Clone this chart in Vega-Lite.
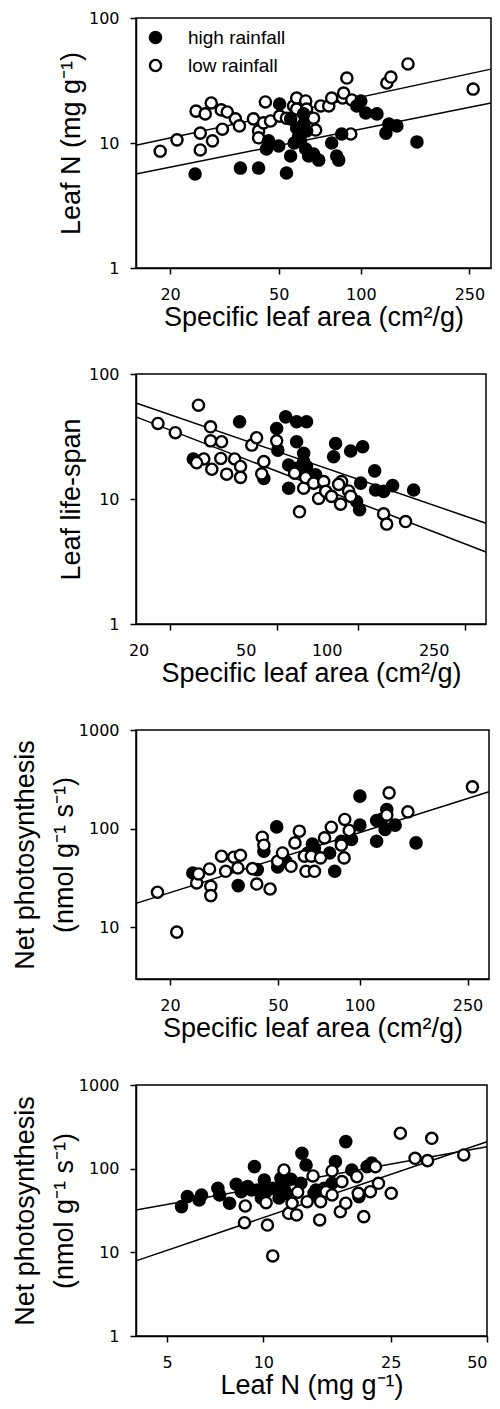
{
  "$schema": "https://vega.github.io/schema/vega-lite/v6.json",
  "background": "white",
  "padding": {"left": 10, "top": 9, "right": 5, "bottom": 2},
  "bounds": "flush",
  "spacing": 106,
  "resolve": {"scale": {"fill": "independent"}, "legend": {"fill": "independent"}},
  "datasets": {
    "leafN_vs_sla": [
      {"sla": 18.4, "leafN": 8.6, "rain": "low rainfall"},
      {"sla": 21.2, "leafN": 10.6, "rain": "low rainfall"},
      {"sla": 24.9, "leafN": 18.0, "rain": "low rainfall"},
      {"sla": 25.8, "leafN": 12.0, "rain": "low rainfall"},
      {"sla": 25.8, "leafN": 8.8, "rain": "low rainfall"},
      {"sla": 26.9, "leafN": 17.1, "rain": "low rainfall"},
      {"sla": 28.3, "leafN": 20.9, "rain": "low rainfall"},
      {"sla": 28.6, "leafN": 10.4, "rain": "low rainfall"},
      {"sla": 30.8, "leafN": 18.4, "rain": "low rainfall"},
      {"sla": 31.1, "leafN": 12.9, "rain": "low rainfall"},
      {"sla": 32.4, "leafN": 17.7, "rain": "low rainfall"},
      {"sla": 34.7, "leafN": 15.6, "rain": "low rainfall"},
      {"sla": 35.9, "leafN": 13.7, "rain": "low rainfall"},
      {"sla": 40.4, "leafN": 15.6, "rain": "low rainfall"},
      {"sla": 42.2, "leafN": 12.5, "rain": "low rainfall"},
      {"sla": 42.2, "leafN": 11.0, "rain": "low rainfall"},
      {"sla": 44.7, "leafN": 21.3, "rain": "low rainfall"},
      {"sla": 44.0, "leafN": 14.5, "rain": "low rainfall"},
      {"sla": 46.7, "leafN": 15.0, "rain": "low rainfall"},
      {"sla": 50.4, "leafN": 16.4, "rain": "low rainfall"},
      {"sla": 53.4, "leafN": 15.8, "rain": "low rainfall"},
      {"sla": 56.7, "leafN": 19.8, "rain": "low rainfall"},
      {"sla": 58.2, "leafN": 22.9, "rain": "low rainfall"},
      {"sla": 58.2, "leafN": 18.7, "rain": "low rainfall"},
      {"sla": 62.8, "leafN": 21.7, "rain": "low rainfall"},
      {"sla": 63.3, "leafN": 18.7, "rain": "low rainfall"},
      {"sla": 67.1, "leafN": 15.8, "rain": "low rainfall"},
      {"sla": 68.3, "leafN": 12.7, "rain": "low rainfall"},
      {"sla": 71.3, "leafN": 19.8, "rain": "low rainfall"},
      {"sla": 76.3, "leafN": 19.8, "rain": "low rainfall"},
      {"sla": 78.2, "leafN": 22.9, "rain": "low rainfall"},
      {"sla": 85.8, "leafN": 22.9, "rain": "low rainfall"},
      {"sla": 86.5, "leafN": 25.1, "rain": "low rainfall"},
      {"sla": 88.9, "leafN": 33.1, "rain": "low rainfall"},
      {"sla": 91.9, "leafN": 11.8, "rain": "low rainfall"},
      {"sla": 92.7, "leafN": 22.1, "rain": "low rainfall"},
      {"sla": 124.6, "leafN": 30.2, "rain": "low rainfall"},
      {"sla": 128.9, "leafN": 33.7, "rain": "low rainfall"},
      {"sla": 148.9, "leafN": 42.9, "rain": "low rainfall"},
      {"sla": 258, "leafN": 27.0, "rain": "low rainfall"},
      {"sla": 24.7, "leafN": 5.65, "rain": "high rainfall"},
      {"sla": 36.2, "leafN": 6.3, "rain": "high rainfall"},
      {"sla": 42.2, "leafN": 6.3, "rain": "high rainfall"},
      {"sla": 53.4, "leafN": 5.75, "rain": "high rainfall"},
      {"sla": 45.1, "leafN": 8.95, "rain": "high rainfall"},
      {"sla": 45.9, "leafN": 10.4, "rain": "high rainfall"},
      {"sla": 50.0, "leafN": 9.46, "rain": "high rainfall"},
      {"sla": 50.4, "leafN": 20.5, "rain": "high rainfall"},
      {"sla": 55.3, "leafN": 7.87, "rain": "high rainfall"},
      {"sla": 55.3, "leafN": 15.6, "rain": "high rainfall"},
      {"sla": 58.2, "leafN": 13.2, "rain": "high rainfall"},
      {"sla": 59.2, "leafN": 11.4, "rain": "high rainfall"},
      {"sla": 61.7, "leafN": 17.1, "rain": "high rainfall"},
      {"sla": 61.7, "leafN": 14.1, "rain": "high rainfall"},
      {"sla": 62.8, "leafN": 8.95, "rain": "high rainfall"},
      {"sla": 63.3, "leafN": 12.5, "rain": "high rainfall"},
      {"sla": 60.1, "leafN": 10.4, "rain": "high rainfall"},
      {"sla": 57.0, "leafN": 10.0, "rain": "high rainfall"},
      {"sla": 64.4, "leafN": 7.87, "rain": "high rainfall"},
      {"sla": 67.1, "leafN": 8.17, "rain": "high rainfall"},
      {"sla": 70.1, "leafN": 7.3, "rain": "high rainfall"},
      {"sla": 78.2, "leafN": 10.0, "rain": "high rainfall"},
      {"sla": 81.6, "leafN": 7.87, "rain": "high rainfall"},
      {"sla": 83.0, "leafN": 7.3, "rain": "high rainfall"},
      {"sla": 85.1, "leafN": 11.8, "rain": "high rainfall"},
      {"sla": 96.7, "leafN": 19.8, "rain": "high rainfall"},
      {"sla": 100, "leafN": 21.7, "rain": "high rainfall"},
      {"sla": 104.3, "leafN": 17.4, "rain": "high rainfall"},
      {"sla": 114.6, "leafN": 17.1, "rain": "high rainfall"},
      {"sla": 123.6, "leafN": 12.0, "rain": "high rainfall"},
      {"sla": 126.7, "leafN": 14.2, "rain": "high rainfall"},
      {"sla": 135.5, "leafN": 13.7, "rain": "high rainfall"},
      {"sla": 160.6, "leafN": 10.2, "rain": "high rainfall"}
    ],
    "fit_a": [
      {"sla": 15, "leafN": 9.6, "rain": "low rainfall"},
      {"sla": 300, "leafN": 39, "rain": "low rainfall"},
      {"sla": 15, "leafN": 5.65, "rain": "high rainfall"},
      {"sla": 300, "leafN": 20.9, "rain": "high rainfall"}
    ],
    "lifespan_vs_sla": [
      {"sla": 24.5, "lifespan": 20.9, "rain": "high rainfall"},
      {"sla": 36.4, "lifespan": 41.5, "rain": "high rainfall"},
      {"sla": 50.0, "lifespan": 36.6, "rain": "high rainfall"},
      {"sla": 50.5, "lifespan": 24.6, "rain": "high rainfall"},
      {"sla": 54.0, "lifespan": 45.4, "rain": "high rainfall"},
      {"sla": 59.3, "lifespan": 41.5, "rain": "high rainfall"},
      {"sla": 64.6, "lifespan": 41.5, "rain": "high rainfall"},
      {"sla": 59.3, "lifespan": 28.7, "rain": "high rainfall"},
      {"sla": 63.0, "lifespan": 23.2, "rain": "high rainfall"},
      {"sla": 63.0, "lifespan": 19.9, "rain": "high rainfall"},
      {"sla": 55.4, "lifespan": 18.7, "rain": "high rainfall"},
      {"sla": 55.4, "lifespan": 12.2, "rain": "high rainfall"},
      {"sla": 59.3, "lifespan": 17.6, "rain": "high rainfall"},
      {"sla": 64.6, "lifespan": 18.2, "rain": "high rainfall"},
      {"sla": 69.8, "lifespan": 15.6, "rain": "high rainfall"},
      {"sla": 82.8, "lifespan": 27.8, "rain": "high rainfall"},
      {"sla": 81.4, "lifespan": 21.8, "rain": "high rainfall"},
      {"sla": 94.2, "lifespan": 24.2, "rain": "high rainfall"},
      {"sla": 104.4, "lifespan": 26.2, "rain": "high rainfall"},
      {"sla": 115.7, "lifespan": 16.8, "rain": "high rainfall"},
      {"sla": 102.6, "lifespan": 13.4, "rain": "high rainfall"},
      {"sla": 99.1, "lifespan": 9.55, "rain": "high rainfall"},
      {"sla": 101.7, "lifespan": 8.2, "rain": "high rainfall"},
      {"sla": 116.6, "lifespan": 11.8, "rain": "high rainfall"},
      {"sla": 124.9, "lifespan": 11.5, "rain": "high rainfall"},
      {"sla": 134.9, "lifespan": 12.8, "rain": "high rainfall"},
      {"sla": 161.5, "lifespan": 11.8, "rain": "high rainfall"},
      {"sla": 44.8, "lifespan": 14.6, "rain": "high rainfall"},
      {"sla": 18.1, "lifespan": 40.2, "rain": "low rainfall"},
      {"sla": 21.0, "lifespan": 33.9, "rain": "low rainfall"},
      {"sla": 25.6, "lifespan": 56.3, "rain": "low rainfall"},
      {"sla": 28.4, "lifespan": 37.8, "rain": "low rainfall"},
      {"sla": 28.4, "lifespan": 29.2, "rain": "low rainfall"},
      {"sla": 31.2, "lifespan": 28.7, "rain": "low rainfall"},
      {"sla": 26.8, "lifespan": 20.9, "rain": "low rainfall"},
      {"sla": 25.2, "lifespan": 19.5, "rain": "low rainfall"},
      {"sla": 28.7, "lifespan": 17.3, "rain": "low rainfall"},
      {"sla": 31.0, "lifespan": 21.1, "rain": "low rainfall"},
      {"sla": 32.6, "lifespan": 15.8, "rain": "low rainfall"},
      {"sla": 34.9, "lifespan": 20.9, "rain": "low rainfall"},
      {"sla": 36.7, "lifespan": 18.2, "rain": "low rainfall"},
      {"sla": 36.7, "lifespan": 14.9, "rain": "low rainfall"},
      {"sla": 40.4, "lifespan": 27.0, "rain": "low rainfall"},
      {"sla": 42.1, "lifespan": 30.9, "rain": "low rainfall"},
      {"sla": 44.8, "lifespan": 19.9, "rain": "low rainfall"},
      {"sla": 44.0, "lifespan": 15.9, "rain": "low rainfall"},
      {"sla": 50.0, "lifespan": 29.2, "rain": "low rainfall"},
      {"sla": 58.3, "lifespan": 16.1, "rain": "low rainfall"},
      {"sla": 60.8, "lifespan": 7.9, "rain": "low rainfall"},
      {"sla": 63.0, "lifespan": 12.2, "rain": "low rainfall"},
      {"sla": 64.1, "lifespan": 14.8, "rain": "low rainfall"},
      {"sla": 68.6, "lifespan": 13.4, "rain": "low rainfall"},
      {"sla": 71.6, "lifespan": 10.1, "rain": "low rainfall"},
      {"sla": 74.8, "lifespan": 13.8, "rain": "low rainfall"},
      {"sla": 76.1, "lifespan": 11.5, "rain": "low rainfall"},
      {"sla": 80.0, "lifespan": 10.5, "rain": "low rainfall"},
      {"sla": 86.4, "lifespan": 9.1, "rain": "low rainfall"},
      {"sla": 87.2, "lifespan": 13.8, "rain": "low rainfall"},
      {"sla": 85.0, "lifespan": 13.1, "rain": "low rainfall"},
      {"sla": 92.6, "lifespan": 11.6, "rain": "low rainfall"},
      {"sla": 94.2, "lifespan": 10.5, "rain": "low rainfall"},
      {"sla": 124.9, "lifespan": 7.6, "rain": "low rainfall"},
      {"sla": 128.2, "lifespan": 6.3, "rain": "low rainfall"},
      {"sla": 150.7, "lifespan": 6.6, "rain": "low rainfall"}
    ],
    "fit_b": [
      {"sla": 15, "lifespan": 58.7, "rain": "high rainfall"},
      {"sla": 300, "lifespan": 6.4, "rain": "high rainfall"},
      {"sla": 15, "lifespan": 45.4, "rain": "low rainfall"},
      {"sla": 300, "lifespan": 3.77, "rain": "low rainfall"}
    ],
    "photo_vs_sla": [
      {"sla": 24.3, "amass": 35.6, "rain": "high rainfall"},
      {"sla": 35.7, "amass": 26.5, "rain": "high rainfall"},
      {"sla": 42.0, "amass": 38.5, "rain": "high rainfall"},
      {"sla": 44.4, "amass": 59.2, "rain": "high rainfall"},
      {"sla": 49.5, "amass": 104.3, "rain": "high rainfall"},
      {"sla": 49.9, "amass": 40.9, "rain": "high rainfall"},
      {"sla": 53.5, "amass": 46.8, "rain": "high rainfall"},
      {"sla": 64.5, "amass": 56.8, "rain": "high rainfall"},
      {"sla": 68.2, "amass": 63.8, "rain": "high rainfall"},
      {"sla": 67.0, "amass": 70.0, "rain": "high rainfall"},
      {"sla": 81.0, "amass": 37.0, "rain": "high rainfall"},
      {"sla": 77.6, "amass": 56.8, "rain": "high rainfall"},
      {"sla": 85.7, "amass": 74.6, "rain": "high rainfall"},
      {"sla": 93.4, "amass": 77.6, "rain": "high rainfall"},
      {"sla": 100.3, "amass": 213.8, "rain": "high rainfall"},
      {"sla": 100.3, "amass": 108.6, "rain": "high rainfall"},
      {"sla": 115.6, "amass": 121.2, "rain": "high rainfall"},
      {"sla": 115.6, "amass": 74.6, "rain": "high rainfall"},
      {"sla": 120.7, "amass": 124.5, "rain": "high rainfall"},
      {"sla": 126.0, "amass": 156.6, "rain": "high rainfall"},
      {"sla": 124.2, "amass": 98.1, "rain": "high rainfall"},
      {"sla": 135.3, "amass": 108.6, "rain": "high rainfall"},
      {"sla": 161.5, "amass": 71.8, "rain": "high rainfall"},
      {"sla": 18.0, "amass": 22.7, "rain": "low rainfall"},
      {"sla": 21.2, "amass": 8.96, "rain": "low rainfall"},
      {"sla": 25.1, "amass": 28.2, "rain": "low rainfall"},
      {"sla": 25.5, "amass": 34.8, "rain": "low rainfall"},
      {"sla": 28.0, "amass": 39.1, "rain": "low rainfall"},
      {"sla": 28.3, "amass": 26.1, "rain": "low rainfall"},
      {"sla": 28.3, "amass": 21.0, "rain": "low rainfall"},
      {"sla": 31.0, "amass": 52.6, "rain": "low rainfall"},
      {"sla": 32.1, "amass": 37.0, "rain": "low rainfall"},
      {"sla": 34.4, "amass": 51.4, "rain": "low rainfall"},
      {"sla": 36.4, "amass": 53.8, "rain": "low rainfall"},
      {"sla": 35.6, "amass": 40.0, "rain": "low rainfall"},
      {"sla": 40.3, "amass": 39.4, "rain": "low rainfall"},
      {"sla": 41.8, "amass": 27.5, "rain": "low rainfall"},
      {"sla": 43.8, "amass": 82.0, "rain": "low rainfall"},
      {"sla": 44.4, "amass": 68.0, "rain": "low rainfall"},
      {"sla": 46.8, "amass": 24.5, "rain": "low rainfall"},
      {"sla": 49.9, "amass": 46.8, "rain": "low rainfall"},
      {"sla": 52.0, "amass": 56.8, "rain": "low rainfall"},
      {"sla": 55.9, "amass": 41.6, "rain": "low rainfall"},
      {"sla": 57.8, "amass": 71.8, "rain": "low rainfall"},
      {"sla": 60.0, "amass": 94.4, "rain": "low rainfall"},
      {"sla": 62.6, "amass": 52.6, "rain": "low rainfall"},
      {"sla": 63.5, "amass": 37.0, "rain": "low rainfall"},
      {"sla": 66.4, "amass": 52.6, "rain": "low rainfall"},
      {"sla": 68.2, "amass": 37.0, "rain": "low rainfall"},
      {"sla": 71.8, "amass": 50.6, "rain": "low rainfall"},
      {"sla": 74.3, "amass": 80.7, "rain": "low rainfall"},
      {"sla": 78.7, "amass": 103.5, "rain": "low rainfall"},
      {"sla": 85.7, "amass": 68.0, "rain": "low rainfall"},
      {"sla": 87.7, "amass": 50.6, "rain": "low rainfall"},
      {"sla": 88.2, "amass": 124.0, "rain": "low rainfall"},
      {"sla": 91.6, "amass": 95.9, "rain": "low rainfall"},
      {"sla": 126.0, "amass": 137.0, "rain": "low rainfall"},
      {"sla": 128.5, "amass": 230.7, "rain": "low rainfall"},
      {"sla": 150.7, "amass": 148.2, "rain": "low rainfall"},
      {"sla": 260.6, "amass": 265.6, "rain": "low rainfall"}
    ],
    "fit_c": [
      {"sla": 15, "amass": 17.5, "rain": "all"},
      {"sla": 300, "amass": 237, "rain": "all"}
    ],
    "photo_vs_leafN": [
      {"leafN": 5.55, "amass": 35.2, "rain": "high rainfall"},
      {"leafN": 5.79, "amass": 46.3, "rain": "high rainfall"},
      {"leafN": 6.30, "amass": 42.3, "rain": "high rainfall"},
      {"leafN": 6.41, "amass": 48.5, "rain": "high rainfall"},
      {"leafN": 7.21, "amass": 58.3, "rain": "high rainfall"},
      {"leafN": 7.30, "amass": 48.5, "rain": "high rainfall"},
      {"leafN": 7.84, "amass": 38.6, "rain": "high rainfall"},
      {"leafN": 8.23, "amass": 65.1, "rain": "high rainfall"},
      {"leafN": 8.53, "amass": 53.1, "rain": "high rainfall"},
      {"leafN": 8.94, "amass": 61.0, "rain": "high rainfall"},
      {"leafN": 9.19, "amass": 55.7, "rain": "high rainfall"},
      {"leafN": 9.38, "amass": 105.7, "rain": "high rainfall"},
      {"leafN": 9.60, "amass": 55.7, "rain": "high rainfall"},
      {"leafN": 9.86, "amass": 44.7, "rain": "high rainfall"},
      {"leafN": 10.07, "amass": 73.3, "rain": "high rainfall"},
      {"leafN": 10.2, "amass": 53.1, "rain": "high rainfall"},
      {"leafN": 10.7, "amass": 58.3, "rain": "high rainfall"},
      {"leafN": 11.2, "amass": 44.7, "rain": "high rainfall"},
      {"leafN": 11.35, "amass": 76.7, "rain": "high rainfall"},
      {"leafN": 11.6, "amass": 58.3, "rain": "high rainfall"},
      {"leafN": 11.8, "amass": 50.8, "rain": "high rainfall"},
      {"leafN": 12.2, "amass": 74.7, "rain": "high rainfall"},
      {"leafN": 13.1, "amass": 66.9, "rain": "high rainfall"},
      {"leafN": 13.2, "amass": 152.9, "rain": "high rainfall"},
      {"leafN": 13.6, "amass": 110.7, "rain": "high rainfall"},
      {"leafN": 14.4, "amass": 50.8, "rain": "high rainfall"},
      {"leafN": 14.6, "amass": 55.7, "rain": "high rainfall"},
      {"leafN": 15.5, "amass": 58.3, "rain": "high rainfall"},
      {"leafN": 16.4, "amass": 66.9, "rain": "high rainfall"},
      {"leafN": 16.8, "amass": 121.3, "rain": "high rainfall"},
      {"leafN": 18.1, "amass": 210.5, "rain": "high rainfall"},
      {"leafN": 18.9, "amass": 96.4, "rain": "high rainfall"},
      {"leafN": 19.9, "amass": 46.3, "rain": "high rainfall"},
      {"leafN": 21.1, "amass": 105.7, "rain": "high rainfall"},
      {"leafN": 21.8, "amass": 117.0, "rain": "high rainfall"},
      {"leafN": 8.78, "amass": 35.8, "rain": "low rainfall"},
      {"leafN": 8.73, "amass": 22.6, "rain": "low rainfall"},
      {"leafN": 10.2, "amass": 39.2, "rain": "low rainfall"},
      {"leafN": 10.3, "amass": 21.2, "rain": "low rainfall"},
      {"leafN": 10.7, "amass": 9.06, "rain": "low rainfall"},
      {"leafN": 11.6, "amass": 96.4, "rain": "low rainfall"},
      {"leafN": 12.0, "amass": 29.3, "rain": "low rainfall"},
      {"leafN": 12.7, "amass": 28.0, "rain": "low rainfall"},
      {"leafN": 12.3, "amass": 38.6, "rain": "low rainfall"},
      {"leafN": 12.8, "amass": 52.3, "rain": "low rainfall"},
      {"leafN": 13.7, "amass": 40.3, "rain": "low rainfall"},
      {"leafN": 14.3, "amass": 81.8, "rain": "low rainfall"},
      {"leafN": 15.0, "amass": 24.4, "rain": "low rainfall"},
      {"leafN": 15.1, "amass": 40.3, "rain": "low rainfall"},
      {"leafN": 15.7, "amass": 53.1, "rain": "low rainfall"},
      {"leafN": 16.4, "amass": 48.5, "rain": "low rainfall"},
      {"leafN": 16.4, "amass": 93.9, "rain": "low rainfall"},
      {"leafN": 17.4, "amass": 30.6, "rain": "low rainfall"},
      {"leafN": 17.6, "amass": 70.0, "rain": "low rainfall"},
      {"leafN": 18.1, "amass": 38.6, "rain": "low rainfall"},
      {"leafN": 19.6, "amass": 80.2, "rain": "low rainfall"},
      {"leafN": 19.8, "amass": 50.8, "rain": "low rainfall"},
      {"leafN": 20.6, "amass": 26.7, "rain": "low rainfall"},
      {"leafN": 21.6, "amass": 53.1, "rain": "low rainfall"},
      {"leafN": 22.4, "amass": 105.7, "rain": "low rainfall"},
      {"leafN": 22.9, "amass": 66.9, "rain": "low rainfall"},
      {"leafN": 25.1, "amass": 50.8, "rain": "low rainfall"},
      {"leafN": 26.8, "amass": 265, "rain": "low rainfall"},
      {"leafN": 29.8, "amass": 133.1, "rain": "low rainfall"},
      {"leafN": 32.6, "amass": 124.7, "rain": "low rainfall"},
      {"leafN": 33.6, "amass": 230.8, "rain": "low rainfall"},
      {"leafN": 42.3, "amass": 145.8, "rain": "low rainfall"}
    ],
    "fit_d": [
      {"leafN": 4, "amass": 32, "rain": "high rainfall"},
      {"leafN": 50, "amass": 183, "rain": "high rainfall"},
      {"leafN": 4, "amass": 7.9, "rain": "low rainfall"},
      {"leafN": 50, "amass": 210, "rain": "low rainfall"}
    ]
  },
  "vconcat": [
    {
      "width": 355,
      "height": 250,
      "encoding": {
        "x": {"field": "sla", "type": "quantitative", "scale": {"type": "log", "domain": [15, 300], "nice": false},
              "axis": {"values": [20, 50, 100, 250], "format": "d", "title": "Specific leaf area (cm²/g)"}},
        "y": {"field": "leafN", "type": "quantitative", "scale": {"type": "log", "domain": [1, 100], "nice": false},
              "axis": {"values": [1, 10, 100], "format": "d", "title": "Leaf N (mg g⁻¹)", "titlePadding": 3}}
      },
      "layer": [
        {"data": {"name": "fit_a"}, "mark": {"type": "line", "color": "black", "strokeWidth": 1.5}, "encoding": {"detail": {"field": "rain"}}},
        {"data": {"name": "leafN_vs_sla"},
         "mark": {"type": "point", "shape": "circle", "filled": true, "size": 125, "stroke": "black", "strokeWidth": 2.4, "opacity": 1},
         "encoding": {"fill": {"field": "rain", "type": "nominal",
            "scale": {"domain": ["high rainfall", "low rainfall"], "range": ["black", "white"]},
            "legend": {"title": null, "orient": "top-left", "offset": 10, "padding": 0, "symbolType": "circle", "symbolSize": 125,
                       "symbolStrokeWidth": 2.4, "symbolStrokeColor": "black", "labelFont": "Liberation Sans", "labelFontSize": 19,
                       "labelColor": "black", "labelOffset": 23, "rowPadding": 7}}}},
        {"data": {"values": [{"label": "a"}]},
         "mark": {"type": "text", "font": "Liberation Sans", "fontSize": 20, "fontWeight": "bold", "align": "center", "baseline": "middle", "color": "black"},
         "encoding": {"x": {"datum": 254}, "y": {"datum": 74.5}, "text": {"field": "label"}}}
      ]
    },
    {
      "width": 350,
      "height": 250,
      "encoding": {
        "x": {"field": "sla", "type": "quantitative", "scale": {"type": "log", "domain": [15, 300], "nice": false},
              "axis": {"values": [20, 50, 100, 250], "format": "d", "labelOffset": -31, "title": "Specific leaf area (cm²/g)"}},
        "y": {"field": "lifespan", "type": "quantitative", "scale": {"type": "log", "domain": [1, 100], "nice": false},
              "axis": {"values": [1, 10, 100], "format": "d", "title": "Leaf life-span", "titlePadding": 3}}
      },
      "layer": [
        {"data": {"name": "fit_b"}, "mark": {"type": "line", "color": "black", "strokeWidth": 1.5}, "encoding": {"detail": {"field": "rain"}}},
        {"data": {"name": "lifespan_vs_sla"},
         "mark": {"type": "point", "shape": "circle", "filled": true, "size": 125, "stroke": "black", "strokeWidth": 2.4, "opacity": 1},
         "encoding": {"fill": {"field": "rain", "type": "nominal",
            "scale": {"domain": ["high rainfall", "low rainfall"], "range": ["black", "white"]}, "legend": null}}},
        {"data": {"values": [{"label": "b"}]},
         "mark": {"type": "text", "font": "Liberation Sans", "fontSize": 20, "fontWeight": "bold", "align": "center", "baseline": "middle", "color": "black"},
         "encoding": {"x": {"datum": 261}, "y": {"datum": 63}, "text": {"field": "label"}}}
      ]
    },
    {
      "width": 353,
      "height": 249,
      "encoding": {
        "x": {"field": "sla", "type": "quantitative", "scale": {"type": "log", "domain": [15, 300], "nice": false},
              "axis": {"values": [20, 50, 100, 250], "format": "d", "title": "Specific leaf area (cm²/g)"}},
        "y": {"field": "amass", "type": "quantitative", "scale": {"type": "log", "domain": [3, 1000], "nice": false},
              "axis": {"values": [10, 100, 1000], "format": "d", "title": ["Net photosynthesis", "(nmol g⁻¹ s⁻¹)"], "titleLineHeight": 39, "titlePadding": 0}}
      },
      "layer": [
        {"data": {"name": "fit_c"}, "mark": {"type": "line", "color": "black", "strokeWidth": 1.5}, "encoding": {"detail": {"field": "rain"}}},
        {"data": {"name": "photo_vs_sla"},
         "mark": {"type": "point", "shape": "circle", "filled": true, "size": 125, "stroke": "black", "strokeWidth": 2.4, "opacity": 1},
         "encoding": {"fill": {"field": "rain", "type": "nominal",
            "scale": {"domain": ["high rainfall", "low rainfall"], "range": ["black", "white"]}, "legend": null}}},
        {"data": {"values": [{"label": "c"}]},
         "mark": {"type": "text", "font": "Liberation Sans", "fontSize": 20, "fontWeight": "bold", "align": "center", "baseline": "middle", "color": "black"},
         "encoding": {"x": {"datum": 263}, "y": {"datum": 656}, "text": {"field": "label"}}}
      ]
    },
    {
      "width": 351,
      "height": 251,
      "encoding": {
        "x": {"field": "leafN", "type": "quantitative", "scale": {"type": "log", "domain": [4, 50], "nice": false},
              "axis": {"values": [5, 10, 25, 50], "format": "d", "title": "Leaf N (mg g⁻¹)"}},
        "y": {"field": "amass", "type": "quantitative", "scale": {"type": "log", "domain": [1, 1000], "nice": false},
              "axis": {"values": [1, 10, 100, 1000], "format": "d", "title": ["Net photosynthesis", "(nmol g⁻¹ s⁻¹)"], "titleLineHeight": 39, "titlePadding": 0}}
      },
      "layer": [
        {"data": {"name": "fit_d"}, "mark": {"type": "line", "color": "black", "strokeWidth": 1.5}, "encoding": {"detail": {"field": "rain"}}},
        {"data": {"name": "photo_vs_leafN"},
         "mark": {"type": "point", "shape": "circle", "filled": true, "size": 125, "stroke": "black", "strokeWidth": 2.4, "opacity": 1},
         "encoding": {"fill": {"field": "rain", "type": "nominal",
            "scale": {"domain": ["high rainfall", "low rainfall"], "range": ["black", "white"]}, "legend": null}}},
        {"data": {"values": [{"label": "d"}]},
         "mark": {"type": "text", "font": "Liberation Sans", "fontSize": 20, "fontWeight": "bold", "align": "center", "baseline": "middle", "color": "black"},
         "encoding": {"x": {"datum": 43}, "y": {"datum": 610}, "text": {"field": "label"}}}
      ]
    }
  ],
  "config": {
    "view": {"stroke": "black", "strokeWidth": 1.5},
    "axis": {
      "grid": false,
      "domainColor": "black", "domainWidth": 1.5,
      "tickColor": "black", "tickWidth": 1.5, "tickSize": 6,
      "labelFont": "DejaVu Sans", "labelFontSize": 16, "labelColor": "black", "labelPadding": 12,
      "titleFont": "Liberation Sans", "titleFontSize": 27, "titleFontWeight": "normal", "titleColor": "black"
    },
    "axisX": {"titlePadding": 2, "labelPadding": 12},
    "axisY": {"labelPadding": 11}
  }
}
